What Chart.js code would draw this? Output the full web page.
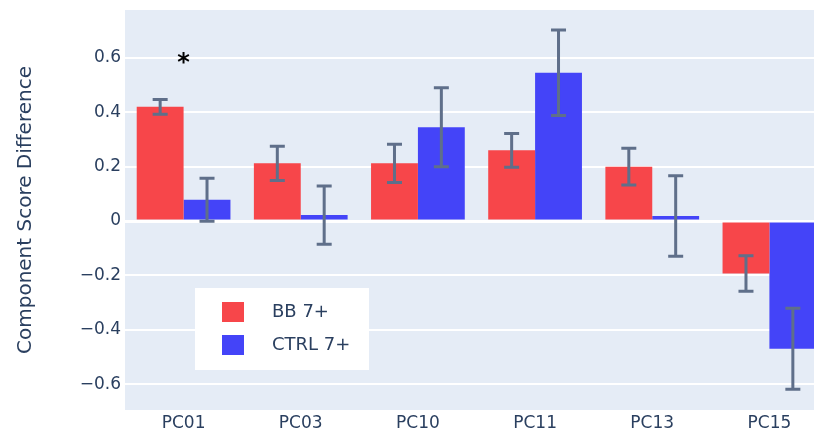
<!DOCTYPE html>
<html>
<head>
<meta charset="utf-8">
<script src="https://cdn.jsdelivr.net/npm/chart.js@4/dist/chart.umd.min.js"></script>
<style>
  html, body { margin: 0; padding: 0; background: #fff; overflow: hidden; }
  #wrap { width: 828px; height: 432px; position: relative; }
</style>
</head>
<body>
<div id="wrap"><canvas id="chart"></canvas></div>
<script>
const categories = ['PC01', 'PC03', 'PC10', 'PC11', 'PC13', 'PC15'];
const bbValues = [0.42, 0.212, 0.212, 0.26, 0.2, -0.193];
const bbErrors = [0.027, 0.063, 0.07, 0.062, 0.068, 0.065];
const ctrlValues = [0.078, 0.022, 0.345, 0.545, 0.018, -0.47];
const ctrlErrors = [0.079, 0.107, 0.145, 0.157, 0.148, 0.149];
const yTicks = [-0.6, -0.4, -0.2, 0, 0.2, 0.4, 0.6];
const seriesNames = ['BB 7+', 'CTRL 7+'];
const markers = [{ category: 'PC01', value: 0.58, text: '*' }];

const font = '"DejaVu Sans", Verdana, sans-serif';
const textColor = '#2a3f5f';
const errColor = 'rgb(95,111,138)';
const barColors = ['#f7464a', '#4444f8'];

const plotBg = {
  id: 'plotBg',
  beforeDraw(chart) {
    const { ctx, chartArea: a } = chart;
    ctx.save();
    ctx.fillStyle = '#e5ecf6';
    ctx.fillRect(a.left, a.top, a.right - a.left, a.bottom - a.top);
    ctx.restore();
  },
};

const errorBars = {
  id: 'errorBars',
  afterDatasetsDraw(chart) {
    const { ctx } = chart;
    const y = chart.scales.y;
    const errs = [bbErrors, ctrlErrors];
    ctx.save();
    ctx.strokeStyle = errColor;
    ctx.lineWidth = 3;
    chart.data.datasets.forEach((ds, i) => {
      chart.getDatasetMeta(i).data.forEach((bar, j) => {
        const v = ds.data[j];
        const top = y.getPixelForValue(v + errs[i][j]);
        const bot = y.getPixelForValue(v - errs[i][j]);
        ctx.beginPath();
        ctx.moveTo(bar.x, top);
        ctx.lineTo(bar.x, bot);
        ctx.moveTo(bar.x - 7.5, top);
        ctx.lineTo(bar.x + 7.5, top);
        ctx.moveTo(bar.x - 7.5, bot);
        ctx.lineTo(bar.x + 7.5, bot);
        ctx.stroke();
      });
    });
    ctx.restore();
  },
};

const extras = {
  id: 'extras',
  afterDraw(chart) {
    const { ctx } = chart;
    const x = chart.scales.x;
    const y = chart.scales.y;
    ctx.save();
    // significance markers
    ctx.fillStyle = '#000';
    ctx.font = 'bold 24px ' + font;
    ctx.textAlign = 'center';
    ctx.textBaseline = 'middle';
    markers.forEach(m => {
      ctx.fillText(m.text, x.getPixelForValue(categories.indexOf(m.category)), y.getPixelForValue(m.value));
    });
    // y axis title
    ctx.fillStyle = textColor;
    ctx.font = '20px ' + font;
    ctx.translate(26, 210);
    ctx.rotate(-Math.PI / 2);
    ctx.fillText('Component Score Difference', 0, 0);
    ctx.restore();
    // legend
    ctx.save();
    ctx.fillStyle = '#fff';
    ctx.fillRect(195, 288, 174, 82);
    ctx.font = '18px ' + font;
    ctx.textBaseline = 'middle';
    seriesNames.forEach((name, i) => {
      const cy = 312 + i * 33;
      ctx.fillStyle = barColors[i];
      ctx.fillRect(222, cy - 10, 22, 20);
      ctx.fillStyle = textColor;
      ctx.fillText(name, 272, cy);
    });
    ctx.restore();
  },
};

new Chart(document.getElementById('chart'), {
  type: 'bar',
  data: {
    labels: categories,
    datasets: [
      { label: seriesNames[0], data: bbValues, backgroundColor: barColors[0] },
      { label: seriesNames[1], data: ctrlValues, backgroundColor: barColors[1] },
    ],
  },
  options: {
    responsive: true,
    maintainAspectRatio: false,
    animation: false,
    layout: { padding: { top: 10, left: 0, right: 0, bottom: 0 } },
    categoryPercentage: 0.8,
    barPercentage: 1.0,
    plugins: { legend: { display: false }, tooltip: { enabled: false } },
    scales: {
      x: {
        grid: { display: false, drawTicks: false },
        border: { display: false },
        ticks: { color: textColor, font: { family: font, size: 17 }, padding: 3, maxRotation: 0 },
        afterFit(s) { s.height = 22; s.paddingLeft = 0; s.paddingRight = 0; },
      },
      y: {
        min: -0.695,
        max: 0.776,
        afterBuildTicks(s) { s.ticks = yTicks.map(v => ({ value: v })); },
        afterFit(s) { s.width = 125; s.paddingTop = 0; s.paddingBottom = 0; },
        grid: {
          color: '#fff',
          lineWidth: c => (c.tick && c.tick.value === 0 ? 3 : 2),
          drawTicks: false,
        },
        border: { display: false },
        ticks: {
          color: textColor,
          font: { family: font, size: 17 },
          padding: 4,
          callback: v => (v === 0 ? '0' : (v < 0 ? '\u2212' : '') + Math.abs(v).toFixed(1)),
        },
      },
    },
  },
  plugins: [plotBg, errorBars, extras],
});
</script>
</body>
</html>
